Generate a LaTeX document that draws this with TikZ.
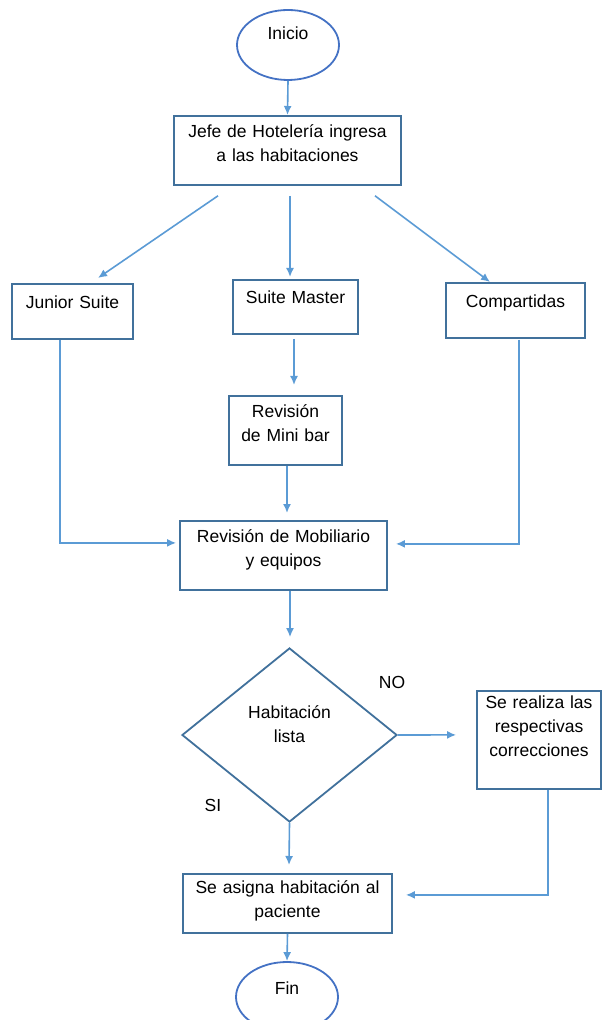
\documentclass[tikz,border=0pt]{standalone}
\usepackage{fontspec}
\setmainfont{Liberation Sans}
\usetikzlibrary{shapes,arrows.meta,calc}

\definecolor{azulborde}{HTML}{41719C}
\definecolor{azulelipse}{HTML}{4472C4}
\definecolor{azulflecha}{HTML}{5B9BD5}

\begin{document}
\begin{tikzpicture}[x=0.5pt, y=-0.5pt,
  font=\fontsize{8.75pt}{12pt}\selectfont,
  caja/.style={draw=azulborde, line width=0.9pt, anchor=north, align=center, inner sep=0pt},
  terminal/.style={ellipse, draw=azulelipse, line width=0.9pt, inner sep=0pt,
    minimum width=51pt, minimum height=35pt, text height=0pt, text depth=5pt},
  decision/.style={diamond, draw=azulborde, line width=0.9pt, inner sep=0pt, align=center,
    text width=46pt, text height=0pt, text depth=17pt, minimum width=107.5pt, minimum height=87pt},
  flecha/.style={draw=azulflecha, line width=0.8pt, -{Latex[length=4.5pt,width=4pt]}}]
\useasboundingbox (0,0) rectangle (608,1020);

% Nodes
\node[terminal] (inicio) at (288,45) {Inicio};
\node[caja, text width=113.5pt, text height=11pt, text depth=23.5pt] (jefe) at (287.5,115)
  {Jefe de Hotelería ingresa\\a las habitaciones};

\node[caja, text width=60.5pt, text height=12.5pt, text depth=15pt] (junior) at (72.5,283) {Junior Suite};
\node[caja, text width=62.5pt, text height=12pt, text depth=15pt] (master) at (295.5,279) {Suite Master};
\node[caja, text width=69.5pt, text height=12.5pt, text depth=15pt] (compartidas) at (515.5,282) {Compartidas};

\node[caja, text width=56.5pt, text height=11pt, text depth=23.5pt] (minibar) at (285.5,395)
  {Revisión\\de Mini bar};
\node[caja, text width=103.5pt, text height=11pt, text depth=23.5pt] (mobiliario) at (283.5,520)
  {Revisión de Mobiliario\\y equipos};

\node[decision] (lista) at (289.5,735) {Habitación\\lista};
\node (no) at (392,682) {NO};
\node (si) at (213,805) {SI};

\node[caja, text width=62pt, text height=9pt, text depth=40pt] (correcciones) at (539,690)
  {Se realiza las\\respectivas\\correcciones};
\node[caja, text width=104.5pt, text height=10pt, text depth=19.5pt] (asigna) at (287.5,873)
  {Se asigna habitación al\\paciente};
\node[terminal, text depth=3pt] (fin) at (287,997) {Fin};

% connectors
\draw[flecha] (inicio.south) -- (jefe.north);
\draw[flecha] ($(jefe.south)+(-69.5,10)$) -- ($(junior.north)+(25.5,-5)$);
\draw[flecha] ($(jefe.south)+(2.5,10)$) -- ($(master.north)+(-5.5,-2)$);
\draw[flecha] ($(jefe.south)+(87.5,10)$) -- ($(compartidas.north)+(-25.5,0)$);
\draw[flecha] ($(master.south)+(-1.5,4)$) -- ($(minibar.north)+(8.5,-10)$);
\draw[flecha] ($(minibar.south)+(1.5,0)$) -- ($(mobiliario.north)+(3.5,-7)$);
\draw[flecha] ($(junior.south)+(-12.5,0)$) |- ($(mobiliario.west)+(-3,-12.5)$);
\draw[flecha] ($(compartidas.south)+(3.5,1)$) |- ($(mobiliario.east)+(8,-11.5)$);
\draw[flecha] ($(mobiliario.south)+(6.5,0)$) -- ($(lista.north)+(0.5,-10)$);
\draw[flecha] (lista.east) -- ($(correcciones.west)+(-20,-5)$);
\draw[flecha] (lista.south) -- ($(asigna.north)+(1.5,-8)$);
\draw[flecha] ($(correcciones.south)+(9,0)$) |- ($(asigna.east)+(13,-8.5)$);
\draw[flecha] (asigna.south) -- (fin.north);
\end{tikzpicture}
\end{document}
